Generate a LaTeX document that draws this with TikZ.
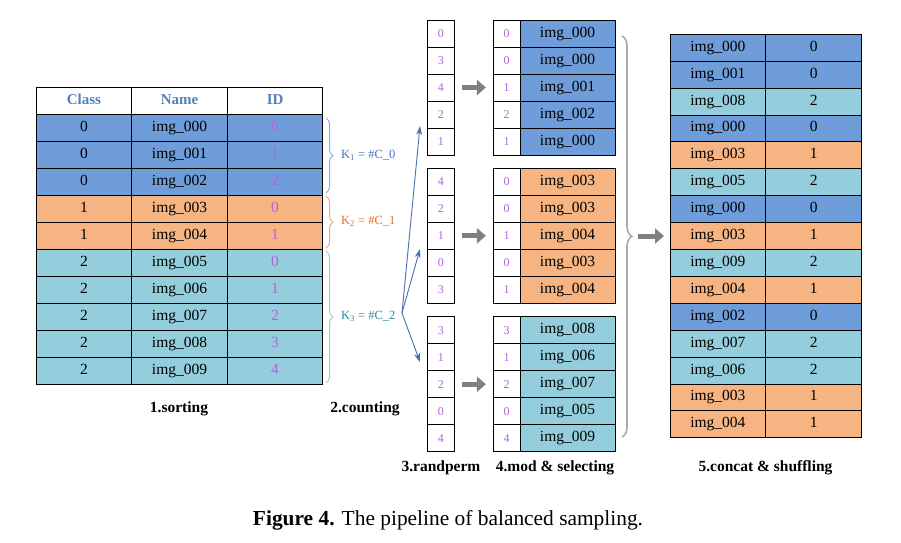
\documentclass[tikz,border=0pt]{standalone}
\usepackage{fontspec}
\setmainfont{Liberation Serif}
\usetikzlibrary{arrows.meta,decorations.pathreplacing,calc}
\definecolor{cB}{RGB}{111,157,217}
\definecolor{cO}{RGB}{245,180,130}
\definecolor{cT}{RGB}{148,206,220}
\definecolor{hdr}{RGB}{84,128,188}
\definecolor{pur}{RGB}{176,100,220}
\definecolor{kone}{RGB}{68,114,196}
\definecolor{ktwo}{RGB}{232,112,40}
\definecolor{kthree}{RGB}{49,133,156}
\definecolor{bone}{RGB}{143,170,220}
\definecolor{btwo}{RGB}{240,170,120}
\definecolor{bthree}{RGB}{160,200,212}
\definecolor{arrblue}{RGB}{70,112,176}
\definecolor{garr}{RGB}{128,128,128}
\definecolor{bgray}{RGB}{170,170,170}
\begin{document}
\begin{tikzpicture}[x=1pt,y=-1pt,
  cell/.style={draw=black,line width=0.9pt,minimum height=27pt,inner sep=0pt,anchor=center,
    text height=10.5pt,text depth=3.5pt,font=\fontsize{15.5}{16}\selectfont},
  smallcell/.style={cell,fill=white,text=pur,text height=8.2pt,text depth=0pt,font=\fontsize{12}{13}\selectfont},
  lbl/.style={font=\fontsize{15.5}{16}\selectfont\bfseries,inner sep=0pt},
  klbl/.style={font=\fontsize{12.5}{13}\selectfont,inner sep=0pt,anchor=west},
  brc/.style={decorate,decoration={brace,amplitude=7pt},line width=1pt},
  garrow/.style={garr,line width=5pt,-{Triangle[length=9pt,width=15pt]}},
  barrow/.style={arrblue,line width=0.9pt,-{Stealth[length=9pt,width=6pt]}}]
\useasboundingbox (0,0) rectangle (901,542);

% ---------- left table ----------
\node[cell,fill=white,minimum width=94.8pt,text=hdr,font=\fontsize{15}{16}\selectfont\bfseries] (hc) at (83.9,100.5) {Class};
\node[cell,fill=white,minimum width=96.4pt,text=hdr,font=\fontsize{15}{16}\selectfont\bfseries] (hn) at (179.5,100.5) {Name};
\node[cell,fill=white,minimum width=94.8pt,text=hdr,font=\fontsize{15}{16}\selectfont\bfseries] (hi) at (275.1,100.5) {ID};
\foreach \cl/\nm/\id/\col [count=\k from 0] in
  {0/000/0/cB,0/001/1/cB,0/002/2/cB,1/003/0/cO,1/004/1/cO,
   2/005/0/cT,2/006/1/cT,2/007/2/cT,2/008/3/cT,2/009/4/cT}{
  \node[cell,fill=\col,minimum width=94.8pt] (lc\k) at (83.9,{127.5+27*\k}) {\cl};
  \node[cell,fill=\col,minimum width=96.4pt] (ln\k) at (179.5,{127.5+27*\k}) {img\_\nm};
  \node[cell,fill=\col,minimum width=94.8pt,text=pur] (li\k) at (275.1,{127.5+27*\k}) {\id};
}

% ---------- braces and K labels ----------
\draw[brc,bone] (326,118) -- (326,193);
\draw[brc,btwo] (326,196) -- (326,248);
\draw[brc,bthree] (326,251) -- (326,383);
\node[klbl,text=kone] (k1) at (341,155.5) {K\textsubscript{1} = \#C\_0};
\node[klbl,text=ktwo] (k2) at (341,221) {K\textsubscript{2} = \#C\_1};
\node[klbl,text=kthree] (k3) at (341,316) {K\textsubscript{3} = \#C\_2};

% ---------- randperm and mod columns ----------
\foreach \top/\g/\col/\vals in
  {20/1/cB/{0/0/000,3/0/000,4/1/001,2/2/002,1/1/000},
   168.3/2/cO/{4/0/003,2/0/003,1/1/004,0/0/003,3/1/004},
   316.7/3/cT/{3/3/008,1/1/006,2/2/007,0/0/005,4/4/009}}{
  \foreach \r/\m/\nm [count=\j from 0] in \vals {
    \node[smallcell,minimum width=27pt] (r\g-\j) at (440.8,{\top+13.5+27*\j}) {\r};
    \node[smallcell,minimum width=26.7pt] (m\g-\j) at (506.7,{\top+13.5+27*\j}) {\m};
    \node[cell,fill=\col,minimum width=95pt] (s\g-\j) at (567.5,{\top+13.5+27*\j}) {img\_\nm};
  }
  \draw[garrow] ($(r\g-2.east)+(7,0)$) -- ($(m\g-2.west)+(-7,0)$);
}

% ---------- blue arrows from counting ----------
\coordinate (fork) at (402,313);
\coordinate (a1) at (420,126);
\coordinate (a2) at (420,249);
\coordinate (a3) at (420,362);
\draw[barrow] (fork) -- (a1);
\draw[barrow] (fork) -- (a2);
\draw[barrow] (fork) -- (a3);

% ---------- big brace and arrow ----------
\draw[decorate,decoration={brace,amplitude=10pt},line width=1.6pt,bgray] (622,36) -- (622,437);
\coordinate (bt) at (638,236);
\coordinate (bh) at (664,236);
\draw[garrow] (bt) -- (bh);

% ---------- right table ----------
\foreach \nm/\c/\col [count=\k from 0] in
  {000/0/cB,001/0/cB,008/2/cT,000/0/cB,003/1/cO,005/2/cT,000/0/cB,003/1/cO,
   009/2/cT,004/1/cO,002/0/cB,007/2/cT,006/2/cT,003/1/cO,004/1/cO}{
  \node[cell,fill=\col,minimum width=95.7pt,minimum height=26.9pt] (rn\k) at (717.85,{34.3+13.45+26.9*\k}) {img\_\nm};
  \node[cell,fill=\col,minimum width=96pt,minimum height=26.9pt] (rc\k) at (813.7,{34.3+13.45+26.9*\k}) {\c};
}

% ---------- step labels ----------
\node[lbl] (l1) at (179,409) {1.sorting};
\node[lbl] (l2) at (365,409) {2.counting};
\node[lbl] (l3) at (441,468) {3.randperm};
\node[lbl] (l4) at (555,468) {4.mod \& selecting};
\node[lbl] (l5) at (765.5,468) {5.concat \& shuffling};

\node[font=\fontsize{21.4}{23}\selectfont,inner sep=0pt] (cap) at (448,520) {\textbf{Figure 4.} The pipeline of balanced sampling.};
\end{tikzpicture}
\end{document}
